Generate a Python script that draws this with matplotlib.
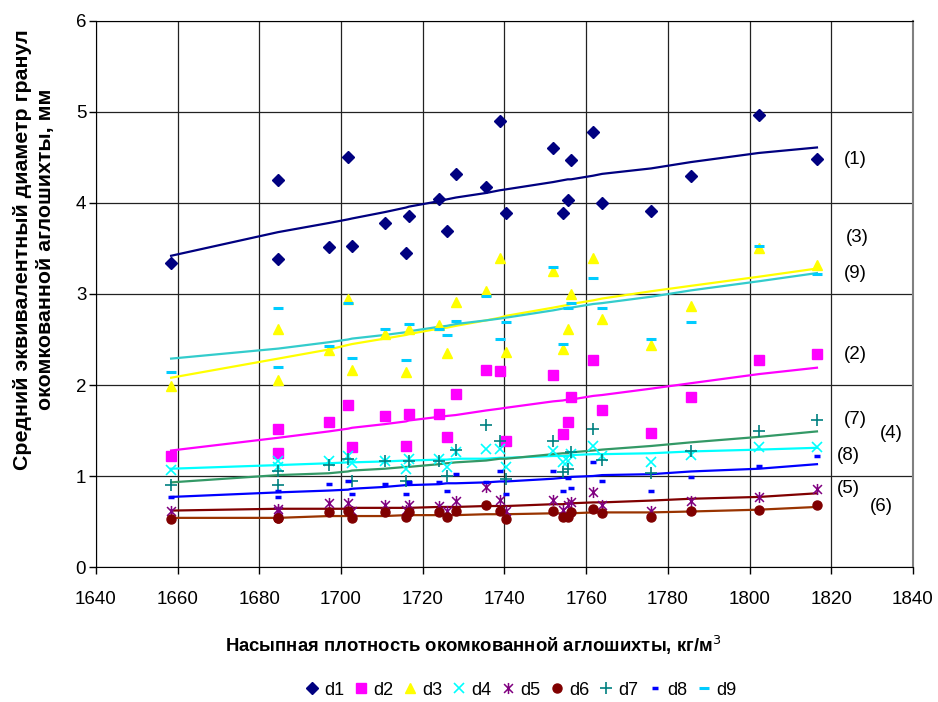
import matplotlib
matplotlib.use("Agg")
import matplotlib.pyplot as plt
from matplotlib.path import Path

plt.rcParams['font.family'] = ['Liberation Sans', 'DejaVu Sans']

# насыпная плотность, кг/м3
density = [1658.4, 1684.6, 1684.6, 1697.0, 1701.7, 1702.7, 1710.7, 1715.9, 1716.6,
           1724.0, 1725.9, 1728.1, 1735.5, 1738.9, 1740.4, 1751.9, 1754.3, 1755.5,
           1756.3, 1761.7, 1763.9, 1775.9, 1785.7, 1802.3, 1816.5]

# измеренные диаметры, мм
d1 = [3.34, 4.25, 3.39, 3.52, 4.51, 3.53, 3.78, 3.45, 3.86, 4.04, 3.69, 4.32, 4.18,
      4.90, 3.89, 4.60, 3.89, 4.03, 4.47, 4.78, 4.00, 3.91, 4.30, 4.97, 4.48]
d2 = [1.22, 1.52, 1.25, 1.59, 1.78, 1.32, 1.66, 1.33, 1.68, 1.68, 1.43, 1.90, 2.16,
      2.15, 1.38, 2.11, 1.46, 1.59, 1.87, 2.27, 1.73, 1.47, 1.87, 2.27, 2.34]
d3 = [1.99, 2.62, 2.05, 2.39, 2.95, 2.17, 2.56, 2.14, 2.61, 2.66, 2.35, 2.91, 3.03,
      3.40, 2.36, 3.25, 2.40, 2.61, 3.00, 3.40, 2.72, 2.44, 2.87, 3.50, 3.32]
d4 = [1.07, 1.16, 1.10, 1.16, 1.22, 1.14, 1.17, 1.08, 1.19, 1.19, 1.10, 1.26, 1.30,
      1.30, 1.10, 1.28, 1.15, 1.16, 1.24, 1.33, 1.22, 1.15, 1.23, 1.32, 1.32]
d5 = [0.62, 0.64, 0.62, 0.70, 0.70, 0.62, 0.68, 0.63, 0.68, 0.67, 0.62, 0.73, 0.88,
      0.74, 0.61, 0.74, 0.63, 0.68, 0.71, 0.82, 0.68, 0.62, 0.72, 0.77, 0.86]
d6 = [0.53, 0.54, 0.54, 0.60, 0.62, 0.54, 0.60, 0.55, 0.60, 0.60, 0.55, 0.61, 0.68,
      0.61, 0.53, 0.61, 0.55, 0.55, 0.60, 0.64, 0.59, 0.55, 0.61, 0.63, 0.68]
d7 = [0.90, 1.05, 0.90, 1.12, 1.19, 0.95, 1.16, 0.95, 1.17, 1.16, 1.00, 1.29, 1.56,
      1.39, 0.97, 1.39, 1.04, 1.08, 1.26, 1.52, 1.18, 1.03, 1.27, 1.50, 1.61]
d8 = [0.77, 0.77, 0.83, 0.91, 0.95, 0.80, 0.91, 0.80, 0.93, 0.93, 0.83, 1.02, 0.93,
      1.05, 0.80, 1.06, 0.84, 0.98, 0.87, 1.15, 0.94, 0.84, 0.99, 1.11, 1.22]
d9 = [2.14, 2.85, 2.20, 2.43, 2.90, 2.30, 2.62, 2.28, 2.67, 2.62, 2.55, 2.70, 2.98,
      2.51, 2.69, 3.30, 2.45, 2.85, 2.90, 3.18, 2.85, 2.51, 2.69, 3.53, 3.22]

# расчётные значения (линии)
calc1 = [3.42, 3.68, 3.68, 3.78, 3.82, 3.83, 3.90, 3.95, 3.96, 4.02, 4.04, 4.06, 4.11,
         4.14, 4.15, 4.23, 4.25, 4.26, 4.26, 4.30, 4.32, 4.38, 4.45, 4.55, 4.61]
calc2 = [1.28, 1.42, 1.42, 1.49, 1.52, 1.53, 1.57, 1.60, 1.61, 1.65, 1.66, 1.67, 1.72,
         1.74, 1.75, 1.82, 1.83, 1.84, 1.84, 1.88, 1.89, 1.96, 2.02, 2.12, 2.19]
calc3 = [2.08, 2.29, 2.29, 2.39, 2.44, 2.45, 2.51, 2.55, 2.56, 2.62, 2.63, 2.65, 2.71,
         2.74, 2.76, 2.85, 2.87, 2.88, 2.89, 2.93, 2.95, 3.03, 3.09, 3.19, 3.28]
calc4 = [1.08, 1.12, 1.12, 1.14, 1.15, 1.15, 1.16, 1.17, 1.17, 1.18, 1.18, 1.19, 1.19,
         1.20, 1.20, 1.22, 1.22, 1.22, 1.23, 1.24, 1.24, 1.25, 1.27, 1.29, 1.31]
calc5 = [0.62, 0.64, 0.64, 0.64, 0.64, 0.65, 0.65, 0.65, 0.65, 0.66, 0.66, 0.66, 0.67,
         0.67, 0.67, 0.69, 0.69, 0.70, 0.70, 0.71, 0.71, 0.73, 0.75, 0.77, 0.81]
calc6 = [0.54, 0.54, 0.54, 0.56, 0.56, 0.56, 0.56, 0.57, 0.57, 0.57, 0.57, 0.57, 0.58,
         0.58, 0.58, 0.59, 0.59, 0.59, 0.59, 0.60, 0.60, 0.60, 0.61, 0.63, 0.66]
calc7 = [0.93, 1.01, 1.01, 1.03, 1.05, 1.06, 1.08, 1.10, 1.10, 1.13, 1.14, 1.15, 1.17,
         1.19, 1.19, 1.24, 1.25, 1.25, 1.26, 1.28, 1.29, 1.33, 1.37, 1.43, 1.49]
calc8 = [0.77, 0.82, 0.82, 0.84, 0.85, 0.86, 0.88, 0.90, 0.90, 0.91, 0.92, 0.92, 0.93,
         0.94, 0.94, 0.97, 0.98, 0.98, 0.99, 1.00, 1.01, 1.02, 1.05, 1.08, 1.13]
calc9 = [2.29, 2.40, 2.40, 2.47, 2.50, 2.51, 2.55, 2.58, 2.59, 2.64, 2.65, 2.67, 2.71,
         2.73, 2.74, 2.82, 2.84, 2.85, 2.85, 2.89, 2.90, 2.97, 3.04, 3.14, 3.23]

names = ['d1', 'd2', 'd3', 'd4', 'd5', 'd6', 'd7', 'd8', 'd9']
measured = [d1, d2, d3, d4, d5, d6, d7, d8, d9]
calculated = [calc1, calc2, calc3, calc4, calc5, calc6, calc7, calc8, calc9]
curve_tags = ['(1)', '(2)', '(3)', '(4)', '(5)', '(6)', '(7)', '(8)', '(9)']

# звёздочка как в Excel: крест + вертикаль
asterisk = Path([(-1, -1), (1, 1), (-1, 1), (1, -1), (0, -1.25), (0, 1.25)],
                [Path.MOVETO, Path.LINETO] * 3)

styles = [
    dict(marker='D', color='#000080', ms=6),
    dict(marker='s', color='#FF00FF', ms=6.5),
    dict(marker='^', color='#FFFF00', ms=7.5),
    dict(marker='x', color='#00FFFF', ms=7, mew=1.2),
    dict(marker=asterisk, color='#800080', ms=8, mew=1.1),
    dict(marker='o', color='#800000', ms=6.5),
    dict(marker='+', color='#008080', ms=8, mew=1.2),
    dict(marker='_', color='#0000FF', ms=4, mew=2.5),
    dict(marker='_', color='#00CCFF', ms=7, mew=2.2),
]
line_colors = ['#000080', '#FF00FF', '#FFFF00', '#00FFFF', '#800000',
               '#993300', '#339966', '#0000FF', '#33CCCC']

# подписи кривых (x, y в координатах данных)
tag_pos = [(1826, 4.48), (1826, 2.33), (1826.3, 3.62), (1834.6, 1.47), (1824.3, 0.86),
           (1832.2, 0.67), (1826, 1.62), (1824.3, 1.22), (1826, 3.22)]

fig = plt.figure(figsize=(9.38, 7.02), dpi=100)
ax = fig.add_axes([0.1023, 0.1923, 0.8710, 0.7778])

for vals, col in zip(calculated, line_colors):
    ax.plot(density, vals, color=col, lw=1.6, zorder=2)

for name, vals, st in zip(names, measured, styles):
    ax.plot(density, vals, linestyle='none', label=name, zorder=3,
            marker=st['marker'], markersize=st['ms'], color=st['color'],
            markeredgecolor=st['color'], markeredgewidth=st.get('mew', 1.0))

for tag, (tx, ty) in zip(curve_tags, tag_pos):
    ax.text(tx, ty, tag, ha='center', va='center', fontsize=13.5)

ax.set_xlim(1640, 1840)
ax.set_ylim(0, 6)
ax.set_xticks(range(1640, 1841, 20))
ax.set_yticks(range(0, 7))
ax.grid(True, color='#222222', lw=0.9)
ax.set_axisbelow(True)
ax.tick_params(labelsize=13.5, direction='out', length=5, width=1)
ax.tick_params(axis='x', pad=12)
ax.tick_params(axis='y', pad=2)
for side in ['left', 'bottom', 'top']:
    ax.spines[side].set_color('black')
ax.spines['right'].set_color('#808080')
ax.spines['right'].set_linewidth(1.5)

fig.text(0.504, 0.081, 'Насыпная плотность окомкованной аглошихты, кг/м$^3$',
         ha='center', va='center', fontsize=13.3, fontweight='bold')
fig.text(0.036, 0.645, 'Средний эквивалентный диаметр гранул\nокомкованной аглошихты, мм',
         ha='center', va='center', rotation=90, fontsize=15.4, fontweight='bold',
         multialignment='center', linespacing=1.25)

fig.legend(loc='center', bbox_to_anchor=(0.555, 0.017), ncol=9, frameon=False,
           fontsize=13, handlelength=0.8, handletextpad=0.3, columnspacing=0.5,
           numpoints=1)

fig.savefig('out.png', dpi=100)
